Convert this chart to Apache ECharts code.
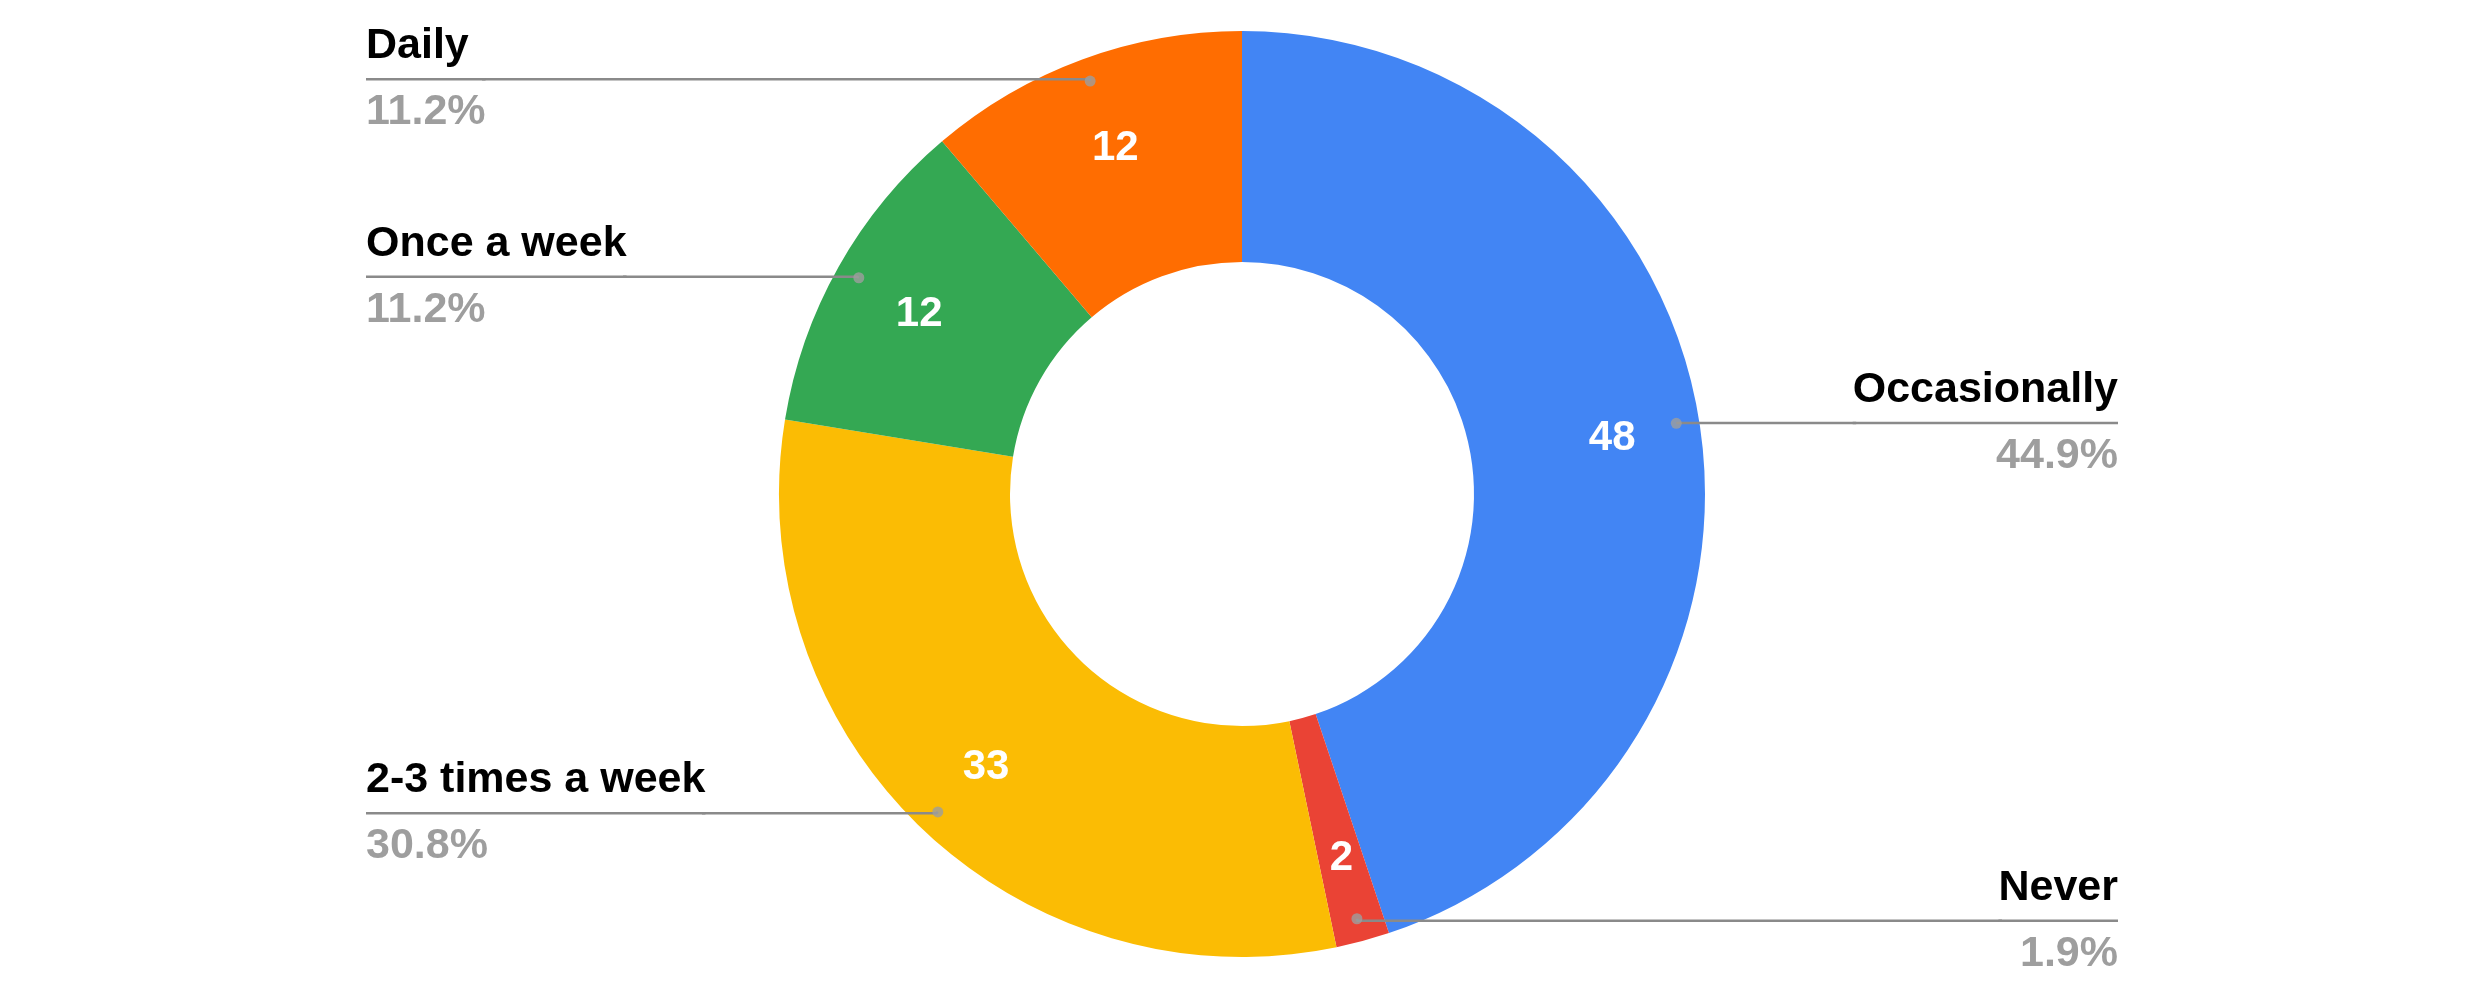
<!DOCTYPE html>
<html><head><meta charset="utf-8">
<script src="https://cdn.jsdelivr.net/npm/echarts@6/dist/echarts.min.js"></script>
<style>html,body{margin:0;padding:0;background:#fff}#c{width:2484px;height:998px}</style>
</head><body><div id="c"></div>
<script>
const categories = ['Occasionally', 'Never', '2-3 times a week', 'Once a week', 'Daily'];
const values = [48, 2, 33, 12, 12];
const colors = ['#4285F4', '#EA4335', '#FBBC04', '#34A853', '#FF6D01'];

const data = categories.map((n, i) => ({ name: n, value: values[i] }));
const total = values.reduce((a, b) => a + b, 0);
let acc = 0;
const mids = values.map(v => { const m = acc + v / 2; acc += v; return [1, m]; });

const FONT = '"Liberation Sans", Arial, sans-serif';
const center = ['50%', '49.5%'];
const LINE = '#8a8a8a';
const chart = echarts.init(document.getElementById('c'));
chart.setOption({
  backgroundColor: '#fff',
  animation: false,
  color: colors,
  textStyle: { fontFamily: FONT },
  polar: { center: center, radius: 440 },
  angleAxis: { type: 'value', min: 0, max: total, startAngle: 90, clockwise: true, show: false },
  radiusAxis: { type: 'value', min: 0, max: 1, show: false },
  series: [
    {
      type: 'pie', radius: [232, 463], center: center, startAngle: 90, clockwise: true,
      data: data, silent: true, percentPrecision: 1,
      label: { show: false }, labelLine: { show: false }, z: 1
    },
    {
      type: 'pie', radius: [277, 463], center: center, startAngle: 90, clockwise: true,
      data: data, silent: true,
      itemStyle: { color: 'transparent' },
      label: { show: true, position: 'inside', formatter: '{c}', color: '#fff',
               fontSize: 42, fontWeight: 'bold', fontFamily: FONT, offset: [2, 4] },
      labelLine: { show: false }, z: 3
    },
    {
      type: 'pie', radius: [400, 440], center: center, startAngle: 90, clockwise: true,
      data: data, silent: true, percentPrecision: 1,
      itemStyle: { color: 'transparent' },
      label: {
        show: true, position: 'outside', alignTo: 'edge', edgeDistance: 366,
        distanceToLabelLine: -6,
        formatter: '{n|{b}}\n{hr|}\n{p|{d}%}',
        rich: {
          n: { fontSize: 43, fontWeight: 'bold', color: '#000', lineHeight: 66, fontFamily: FONT },
          hr: { borderColor: LINE, borderWidth: 2.5, width: '100%', height: 0, lineHeight: 0 },
          p: { fontSize: 43, fontWeight: 'bold', color: '#9e9e9e', lineHeight: 66, fontFamily: FONT }
        }
      },
      labelLine: { show: true, length: 2, length2: 0, lineStyle: { color: LINE, width: 2.5 } },
      z: 4
    },
    {
      type: 'scatter', coordinateSystem: 'polar', data: mids, symbolSize: 11, silent: true,
      itemStyle: { color: '#9e9e9e' }, z: 5
    }
  ]
});
</script>
</body></html>
